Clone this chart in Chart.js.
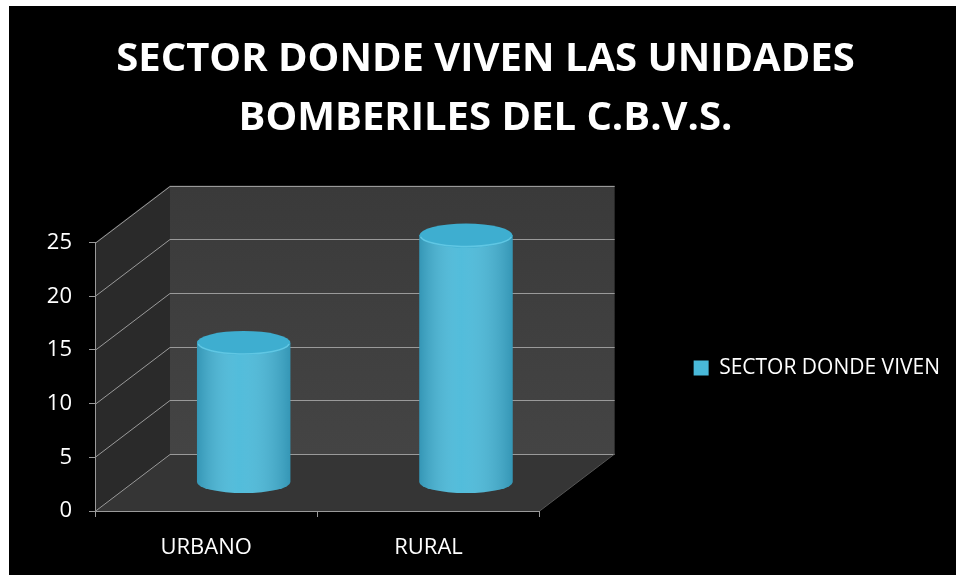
<!DOCTYPE html>
<html>
<head>
<meta charset="utf-8">
<script src="https://cdn.jsdelivr.net/npm/chart.js@4/dist/chart.umd.min.js"></script>
<style>
  body { margin: 0; background: #fff; }
  #chart { position: absolute; left: 9px; top: 6px; background: #000; }
</style>
</head>
<body>
<canvas id="chart" width="947" height="569"></canvas>
<script>
// data
var categories = ['URBANO', 'RURAL'];
var values = [13, 23];
var yTicks = [0, 5, 10, 15, 20, 25];
var seriesName = 'SECTOR DONDE VIVEN';
var titleLines = ['SECTOR DONDE VIVEN LAS UNIDADES', 'BOMBERILES DEL C.B.V.S.'];

// 3d depth of the box (back wall offset)
var DX = 75, DY = -57;
var lineCol = '#9a9a9a';
var barCol = '#49b9d9';

Chart.defaults.font.family = "'Open Sans', sans-serif";

var depth3d = {
  id: 'depth3d',
  beforeDraw: function (chart) {
    var c = chart.ctx, a = chart.chartArea, ys = chart.scales.y;
    var l = a.left, r = a.right, t = a.top, b = a.bottom;
    c.save();
    // back wall
    var g = c.createLinearGradient(0, t + DY, 0, b + DY);
    g.addColorStop(0, '#3a3a3a');
    g.addColorStop(1, '#444444');
    c.fillStyle = g;
    c.fillRect(l + DX, t + DY, r - l, b - t);
    // side wall
    c.fillStyle = '#2a2a2a';
    c.beginPath();
    c.moveTo(l, b); c.lineTo(l, t); c.lineTo(l + DX, t + DY); c.lineTo(l + DX, b + DY);
    c.closePath(); c.fill();
    // floor
    c.fillStyle = '#353535';
    c.beginPath();
    c.moveTo(l, b); c.lineTo(r, b); c.lineTo(r + DX, b + DY); c.lineTo(l + DX, b + DY);
    c.closePath(); c.fill();
    // grid lines on back wall + side wall
    c.strokeStyle = lineCol;
    c.lineWidth = 1;
    yTicks.forEach(function (v) {
      var y = Math.round(ys.getPixelForValue(v)) + 0.5;
      c.beginPath();
      c.moveTo(l, y); c.lineTo(l + DX, y + DY); c.lineTo(r + DX, y + DY);
      c.stroke();
    });
    c.beginPath();
    c.moveTo(r, b); c.lineTo(r + DX, b + DY);
    c.strokeStyle = '#555';
    c.stroke();
    c.restore();
  },
  beforeDatasetsDraw: function (chart) {
    chart.ctx.save();
    chart.ctx.translate(DX / 2, DY / 2);
  },
  afterDatasetsDraw: function (chart) {
    var c = chart.ctx;
    chart.getDatasetMeta(0).data.forEach(function (el) {
      var p = el.getProps(['x', 'y', 'base', 'width'], true);
      var hw = p.width / 2;
      // bottom of cylinder
      c.fillStyle = barCol;
      c.beginPath();
      c.ellipse(p.x, p.base, hw, 11, 0, 0, Math.PI);
      c.fill();
      // round shading
      var g = c.createLinearGradient(p.x - hw, 0, p.x + hw, 0);
      g.addColorStop(0, 'rgba(0,60,90,0.28)');
      g.addColorStop(0.45, 'rgba(255,255,255,0.05)');
      g.addColorStop(1, 'rgba(0,60,90,0.28)');
      c.fillStyle = g;
      c.fillRect(p.x - hw, p.y, p.width, p.base - p.y);
      c.beginPath();
      c.ellipse(p.x, p.base, hw, 11, 0, 0, Math.PI);
      c.fill();
      // top cap
      c.fillStyle = '#3eaed0';
      c.beginPath();
      c.ellipse(p.x, p.y, hw, 12, 0, 0, Math.PI * 2);
      c.fill();
      c.strokeStyle = 'rgba(120,215,240,0.6)';
      c.lineWidth = 1.5;
      c.beginPath();
      c.ellipse(p.x, p.y, hw - 1, 11, 0, 0.1, Math.PI - 0.1);
      c.stroke();
    });
    c.restore();
  }
};

new Chart(document.getElementById('chart'), {
  type: 'bar',
  data: {
    labels: categories,
    datasets: [{
      label: seriesName,
      data: values,
      backgroundColor: barCol,
      borderWidth: 0,
      categoryPercentage: 1,
      barPercentage: 0.42
    }]
  },
  options: {
    responsive: false,
    animation: false,
    layout: { padding: { left: 12, right: 6, bottom: 3 } },
    plugins: {
      title: {
        display: true,
        text: titleLines,
        color: '#fff',
        font: { size: 40, weight: 'bold', lineHeight: 1.47 },
        padding: { top: 24, bottom: 95 }
      },
      legend: {
        position: 'right',
        maxWidth: 320,
        title: { display: true, text: ' ', font: { size: 10 }, padding: { top: 146, bottom: 0 } },
        labels: {
          color: '#fff',
          font: { size: 21 },
          boxWidth: 15,
          boxHeight: 15,
          padding: 10
        }
      },
      tooltip: { enabled: false }
    },
    scales: {
      x: {
        grid: { drawOnChartArea: false, tickLength: 6, color: lineCol },
        border: { color: lineCol },
        ticks: { color: '#fff', font: { size: 22 }, padding: 18 },
        afterFit: function (s) { s.height = 61; }
      },
      y: {
        min: 0,
        max: 25,
        grid: { drawOnChartArea: false, tickLength: 6, color: lineCol },
        border: { color: lineCol },
        ticks: { stepSize: 5, color: '#fff', font: { size: 22 }, padding: 17 },
        afterFit: function (s) { s.width = 74; }
      },
      spacer: {
        type: 'linear',
        position: 'right',
        grid: { display: false },
        border: { display: false },
        ticks: { display: false },
        afterFit: function (s) { s.width = 144; }
      }
    }
  },
  plugins: [depth3d]
});
</script>
</body>
</html>
